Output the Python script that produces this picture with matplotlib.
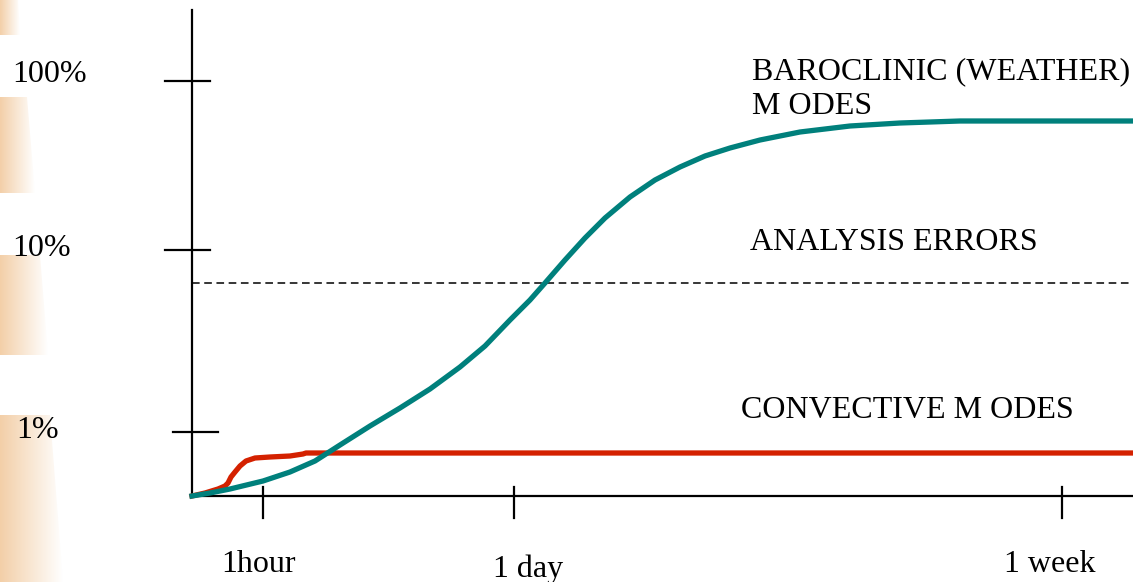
import matplotlib.pyplot as plt
import numpy as np
from matplotlib.patches import Polygon
from matplotlib.colors import LinearSegmentedColormap

plt.rcParams['font.family'] = ['Liberation Serif', 'DejaVu Serif']

# schematic chart, coordinates in picture units (x right, y down)
W, H = 1133, 582
DPI = 100

origin = (192, 496)

# convective (red) and baroclinic (teal) error growth curves
conv_x = [192, 205, 218, 225, 228, 231, 235, 240, 246, 255, 270, 290, 303, 306, 500, 800, 1133]
conv_y = [496, 493, 489, 486, 483, 477, 472, 466, 461, 458, 457, 456, 454, 453, 453, 453, 453]

baro_x = [192, 210, 230, 263, 290, 315, 340, 370, 400, 430, 460, 485, 510, 530, 545, 565,
          585, 605, 630, 655, 680, 705, 730, 760, 800, 850, 900, 960, 1040, 1133]
baro_y = [496, 493, 489, 481, 472, 461, 445, 426, 408, 389, 367, 346, 320, 300, 283, 260,
          238, 218, 197, 180, 167, 156, 148, 140, 132, 126, 123, 121, 121, 121]

analysis_y = 283

ytick_pos = [81, 250, 432]
ytick_labels = ['100%', '10%', '1%']
ytick_span = [(165, 210), (165, 210), (173, 218)]

xtick_pos = [263, 514, 1062]
xtick_labels = ['1hour', '1 day', '1 week']

# orange gradient bands on the left edge: (top, bottom, width_top, width_bottom)
bands = [(0, 35, 18, 20), (97, 193, 27, 35), (255, 355, 40, 48), (415, 582, 50, 63)]

fig = plt.figure(figsize=(W / DPI, H / DPI), dpi=DPI)
ax = fig.add_axes([0, 0, 1, 1])

grad = np.linspace(1, 0, 256).reshape(1, -1)
cmap = LinearSegmentedColormap.from_list('o', ['#ffffff', '#f3cfa8'])
for top, bot, wt, wb in bands:
    im = ax.imshow(grad, extent=[0, wb, bot, top], cmap=cmap, vmin=0, vmax=1,
                   aspect='auto', zorder=0, interpolation='bilinear')
    poly = Polygon([(0, top), (wt, top), (wb, bot), (0, bot)], closed=True,
                   facecolor='none', edgecolor='none')
    ax.add_patch(poly)
    im.set_clip_path(poly)
ax.set_xlim(0, W)
ax.set_ylim(H, 0)
ax.axis('off')

# axes
ax.plot([origin[0], origin[0]], [10, origin[1]], color='black', lw=1.6)
ax.plot([origin[0], W], [origin[1], origin[1]], color='black', lw=1.6)

for y, (x0, x1) in zip(ytick_pos, ytick_span):
    ax.plot([x0, x1], [y, y], color='black', lw=1.6)
for y, lab, x in zip([74, 249, 431], ytick_labels, [12, 12, 16]):
    ax.text(x, y, lab, fontsize=23, ha='left', va='center')

for x in xtick_pos:
    ax.plot([x, x], [487, 518], color='black', lw=1.6)
for x, lab, ly in zip([258, 528, 1050], xtick_labels, [564, 569, 564]):
    ax.text(x, ly, lab, fontsize=23, ha='center', va='center')

ax.plot([origin[0], W], [analysis_y, analysis_y], color='black', lw=1.1, ls=(0, (5, 3)))

ax.plot(conv_x, conv_y, color='#d42100', lw=3.8, solid_joinstyle='round', zorder=3)
ax.plot(baro_x, baro_y, color='#00807c', lw=3.8, solid_joinstyle='round', zorder=4)

ax.text(752, 72, 'BAROCLINIC (WEATHER)', fontsize=23, ha='left', va='center')
ax.text(752, 107, 'M ODES', fontsize=23, ha='left', va='center')
ax.text(750, 243, 'ANALYSIS ERRORS', fontsize=23, ha='left', va='center')
ax.text(741, 411, 'CONVECTIVE M ODES', fontsize=23, ha='left', va='center')

fig.savefig('out.png', dpi=DPI)
